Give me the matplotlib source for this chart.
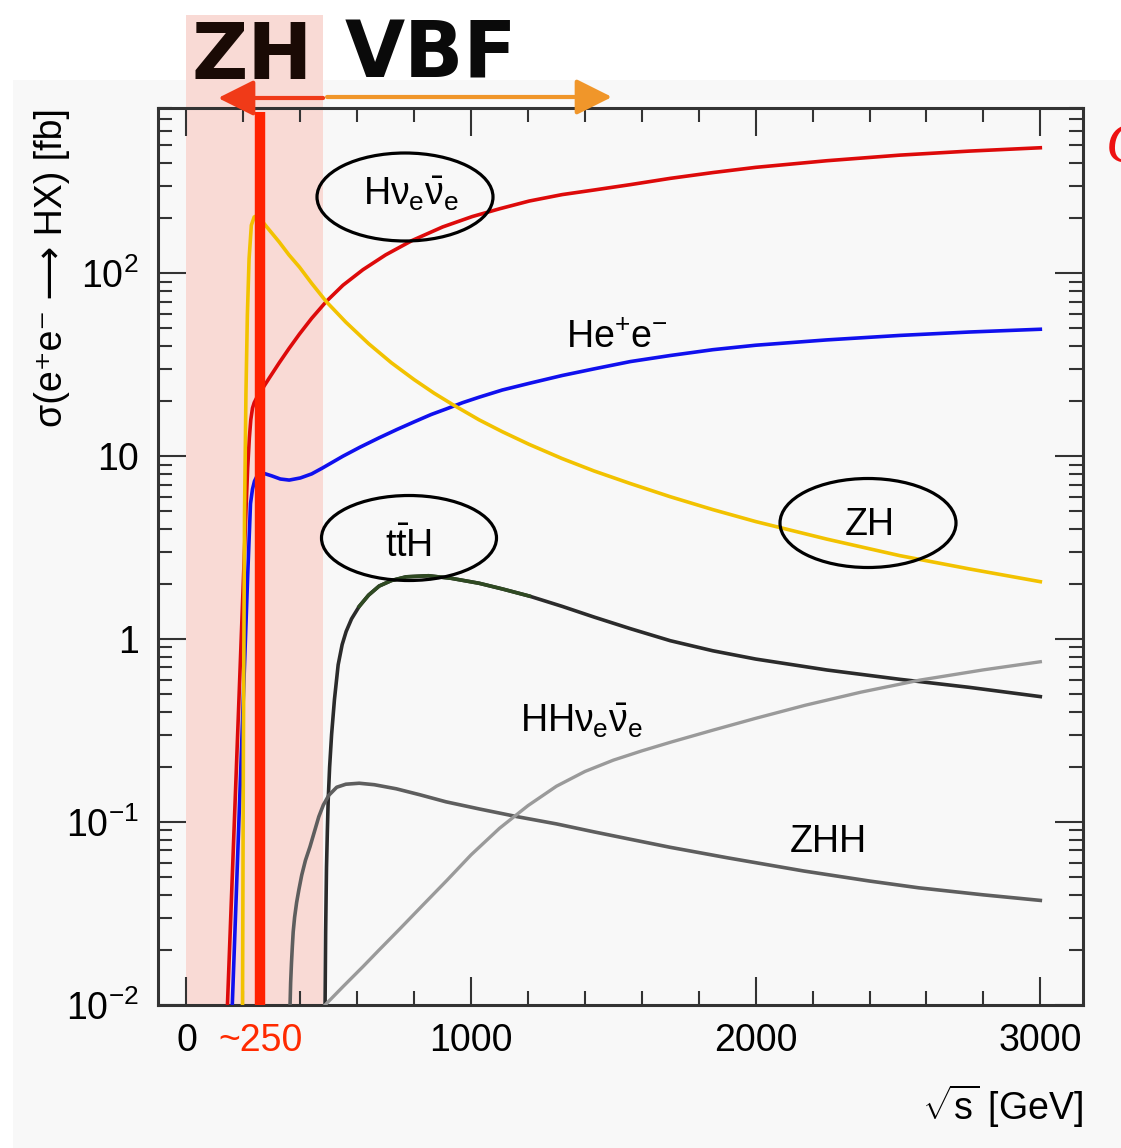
import matplotlib
matplotlib.use("Agg")
import matplotlib.pyplot as plt
import matplotlib.transforms as mtransforms
from matplotlib.patches import Ellipse, Rectangle
from matplotlib.ticker import MultipleLocator, FixedLocator, FixedFormatter, LogLocator, NullFormatter
import numpy as np

plt.rcParams['font.family'] = ['Liberation Sans', 'DejaVu Sans']
plt.rcParams['mathtext.fontset'] = 'custom'
plt.rcParams['mathtext.rm'] = 'Liberation Sans'
plt.rcParams['mathtext.it'] = 'Liberation Sans'
plt.rcParams['mathtext.bf'] = 'Liberation Sans:bold'
plt.rcParams['mathtext.sf'] = 'Liberation Sans'

# --- cross sections (sqrt(s) in GeV, sigma in fb) ---
hvv_x = [144, 160, 175, 190, 200, 210, 215, 221, 226, 232, 238, 245, 256, 290, 326, 360, 397,
         440, 491, 550, 620, 700, 793, 900, 1004, 1100, 1204, 1320, 1432, 1560, 1700, 1850,
         2000, 2250, 2506, 2750, 3000]
hvv_y = [0.01, 0.046, 0.19, 0.8, 2.1, 5.5, 8.6, 12.6, 15.8, 18.3, 19.6, 20.6, 22, 26.6, 32.4,
         38.7, 46.5, 56.7, 70, 86, 104.5, 126, 151, 179, 204, 225, 248, 269, 285, 305, 330, 355,
         379, 412, 442, 465, 485]

hee_x = [161, 175, 190, 205, 215, 225, 232, 239, 250, 267, 300, 330, 361, 400, 440, 477, 550,
         610, 677, 740, 800, 860, 912, 970, 1028, 1110, 1204, 1320, 1432, 1560, 1700, 1850,
         2000, 2250, 2506, 2750, 3000]
hee_y = [0.01, 0.04, 0.18, 0.8, 2.2, 5.5, 6.6, 7.3, 7.9, 8.1, 7.8, 7.5, 7.4, 7.6, 8.0, 8.6, 10.0,
         11.2, 12.6, 14.0, 15.4, 16.9, 18.1, 19.6, 21, 23, 25, 27.6, 30, 32.9, 35.5, 38.2,
         40.4, 43.2, 45.7, 47.7, 49.4]

zh_x = [197, 200, 204, 209, 214, 220, 228, 238, 249, 262, 281, 326, 360, 397, 440, 491, 560,
        640, 720, 800, 870, 934, 1028, 1110, 1204, 1320, 1432, 1560, 1700, 1850, 2000, 2250,
        2506, 2750, 3000]
zh_y = [0.01, 0.25, 4.8, 22, 59, 120, 183, 203, 207, 196, 180, 148, 126, 108, 88, 70, 54,
        41.2, 32.4, 26.2, 22.1, 19.2, 15.8, 13.6, 11.6, 9.7, 8.3, 7.08, 6.0, 5.1, 4.39, 3.52,
        2.86, 2.42, 2.06]

tth_x = [487, 489, 492, 495, 498, 503, 510, 520, 533, 547, 561, 580, 607, 640, 677, 720, 772,
         850, 930, 1028, 1110, 1204, 1320, 1432, 1560, 1700, 1850, 2000, 2250, 2506, 2750, 3000]
tth_y = [0.01, 0.025, 0.056, 0.089, 0.132, 0.2, 0.302, 0.468, 0.724, 0.933, 1.10, 1.29, 1.51,
         1.74, 1.95, 2.09, 2.19, 2.22, 2.15, 2.02, 1.88, 1.72, 1.51, 1.32, 1.14, 0.98, 0.863,
         0.778, 0.678, 0.603, 0.545, 0.485]

zhh_x = [364, 366, 369, 372, 375, 380, 387, 395, 405, 418, 434, 450, 465, 481, 500, 528, 560,
         607, 660, 737, 820, 912, 1028, 1162, 1300, 1430, 1560, 1699, 1900, 2169, 2400, 2573,
         2800, 3000]
zhh_y = [0.01, 0.0132, 0.017, 0.0209, 0.0251, 0.0302, 0.0363, 0.0427, 0.0513, 0.0617, 0.0733,
         0.0891, 0.107, 0.124, 0.140, 0.155, 0.161, 0.163, 0.160, 0.152, 0.141, 0.129, 0.118,
         0.107, 0.0977, 0.0885, 0.0805, 0.0728, 0.0638, 0.054, 0.0476, 0.0437, 0.040, 0.0373]

hhvv_x = [487, 550, 620, 677, 750, 830, 915, 1000, 1100, 1200, 1300, 1400, 1500, 1600, 1704,
          1850, 2000, 2174, 2370, 2577, 2800, 3000]
hhvv_y = [0.01, 0.0126, 0.0162, 0.02, 0.0261, 0.0351, 0.048, 0.0662, 0.0925, 0.123, 0.157,
          0.189, 0.218, 0.245, 0.274, 0.318, 0.369, 0.435, 0.513, 0.597, 0.679, 0.752]

x_major = [0, 1000, 2000, 3000]
y_major = [0.01, 0.1, 1, 10, 100]
y_major_labels = [r'$10^{-2}$', r'$10^{-1}$', '1', '10', r'$10^{2}$']

W, H = 1121, 1148
FS = 27

fig = plt.figure(figsize=(W / 100, H / 100), dpi=100)
fig.patch.set_facecolor('white')
# grey screenshot panel
fig.add_artist(Rectangle((13 / W, 0), 1, 1 - 80 / H, transform=fig.transFigure,
                         facecolor='#f8f8f8', edgecolor='none', zorder=-3))

ax = fig.add_axes([158 / W, 1 - 1005 / H, (1083 - 158) / W, (1005 - 108) / H])
ax.set_facecolor('none')
ax.set_xlim(-100, 3150)
ax.set_yscale('log')
ax.set_ylim(0.01, 800)

# ZH region band (extends above the frame)
blend = mtransforms.blended_transform_factory(ax.transData, fig.transFigure)
fig.add_artist(Rectangle((0, 1 - 1005 / H), 480, (1005 - 15) / H, transform=blend,
                         facecolor='#f9dad5', edgecolor='none', zorder=-2))

ax.plot(hvv_x, hvv_y, color='#dd0a0a', lw=2.6, zorder=3)
ax.plot(hee_x, hee_y, color='#1010ee', lw=2.6, zorder=3)
ax.plot(zh_x, zh_y, color='#f2c200', lw=2.6, zorder=3)
ax.plot(tth_x, tth_y, color='#2b2b2b', lw=2.6, zorder=3)
tx = np.array(tth_x)
sel = (tx >= 607) & (tx <= 1204)
ax.plot(tx[sel], np.array(tth_y)[sel], color='#2f4a22', lw=2.6, zorder=3)
ax.plot(zhh_x, zhh_y, color='#5e5e5e', lw=2.6, zorder=3)
ax.plot(hhvv_x, hhvv_y, color='#9a9a9a', lw=2.4, zorder=3)

ax.axvline(260, ymin=0, ymax=0.995, color='#ff2200', lw=7.5, zorder=5, solid_capstyle='butt')

# axes styling
for s in ax.spines.values():
    s.set_linewidth(2.2)
    s.set_color('#333333')
ax.xaxis.set_major_locator(FixedLocator(x_major))
ax.xaxis.set_minor_locator(MultipleLocator(200))
ax.yaxis.set_major_locator(FixedLocator(y_major))
ax.yaxis.set_major_formatter(FixedFormatter(y_major_labels))
ax.yaxis.set_minor_locator(LogLocator(base=10, subs=range(2, 10), numticks=20))
ax.yaxis.set_minor_formatter(NullFormatter())
ax.tick_params(which='both', direction='in', top=True, right=True, color='#333333',
               width=1.5, labelsize=FS, labelcolor='black')
ax.tick_params(which='major', length=20)
ax.tick_params(which='minor', length=10)
ax.tick_params(axis='x', pad=13)
ax.tick_params(axis='y', pad=14)

ax.set_xlabel(r'$\sqrt{s}$ [GeV]', fontsize=FS, loc='right')
ax.xaxis.set_label_coords(1.0, -0.087)
ax.set_ylabel('σ(e⁺e⁻ ⟶ HX) [fb]', fontsize=FS, loc='top')
ax.yaxis.set_label_coords(-0.095, 1.0)

ax.annotate('~250', xy=(260, 0), xycoords=('data', 'axes fraction'), xytext=(0, -13),
            textcoords='offset points', ha='center', va='top', fontsize=FS, color='#ff2a00')

# process labels
ax.text(620, 236, r'H$\nu_{e}\bar{\nu}_{e}$', fontsize=FS, ha='left', va='baseline', zorder=6)
ax.text(1333, 39, r'He$^{+}$e$^{-}$', fontsize=FS, ha='left', va='baseline', zorder=6)
ax.text(697, 2.81, r't$\bar{\rm t}$H', fontsize=FS, ha='left', va='baseline', zorder=6)
ax.text(2314, 3.71, 'ZH', fontsize=FS, ha='left', va='baseline', zorder=6)
ax.text(1172, 0.31, r'HH$\nu_{e}\bar{\nu}_{e}$', fontsize=FS, ha='left', va='baseline', zorder=6)
ax.text(2120, 0.0686, 'ZHH', fontsize=FS, ha='left', va='baseline', zorder=6)

# ellipses drawn around some labels (pixel sizes)
for cx, cy, w, h in [(405, 197, 176, 88), (409, 538, 175, 85), (868, 523, 176, 89)]:
    fig.add_artist(Ellipse((cx / W, 1 - cy / H), w / W, h / H, transform=fig.transFigure,
                           fill=False, edgecolor='black', lw=2.3, zorder=6))

# hand-drawn arrows and headings above the frame
ax.annotate('', xy=(111, 1 - 98 / H), xycoords=blend, xytext=(480, 1 - 98 / H), textcoords=blend,
            arrowprops=dict(arrowstyle='-|>', color='#f03a18', lw=3, mutation_scale=55,
                            shrinkA=0, shrinkB=0), annotation_clip=False, zorder=7)
ax.annotate('', xy=(1495, 1 - 97 / H), xycoords=blend, xytext=(494, 1 - 97 / H), textcoords=blend,
            arrowprops=dict(arrowstyle='-|>', color='#f0962a', lw=3, mutation_scale=55,
                            shrinkA=0, shrinkB=0), annotation_clip=False, zorder=7)
fig.text(252 / W, 1 - 57 / H, 'ZH', fontsize=56, fontweight='heavy', family='DejaVu Sans',
         color='#1a0a05', ha='center', va='center')
fig.text(431 / W, 1 - 55 / H, 'VBF', fontsize=56, fontweight='heavy', family='DejaVu Sans',
         color='#0a0a0a', ha='center', va='center')
fig.text(1106 / W, 1 - 147 / H, 'C', fontsize=42, family='Liberation Serif', style='italic',
         color='#ee1111', ha='left', va='center')

fig.savefig('out.png', dpi=100)
